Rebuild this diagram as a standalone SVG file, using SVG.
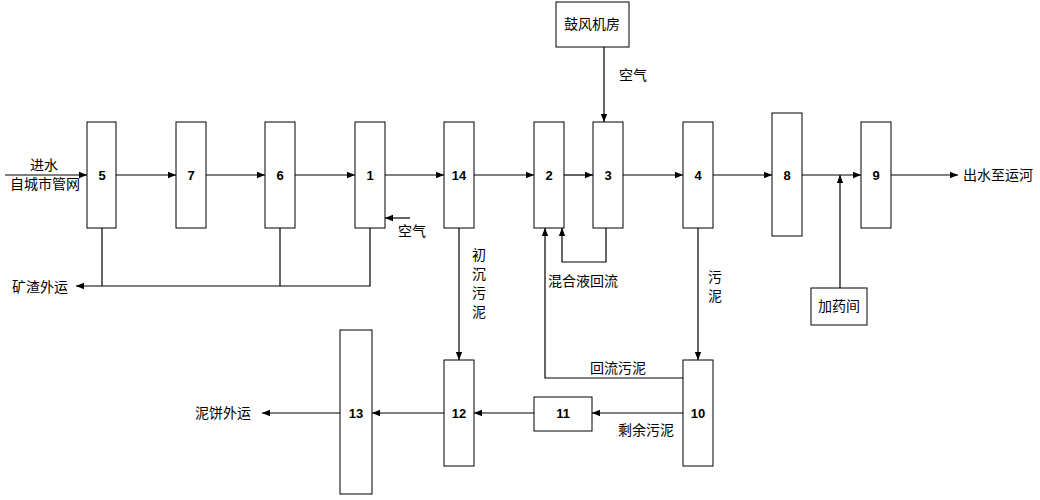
<svg xmlns="http://www.w3.org/2000/svg" width="1040" height="500" viewBox="0 0 1040 500">
<defs>
<marker id="a" viewBox="0 0 10 10" refX="10" refY="5" markerWidth="8" markerHeight="8" orient="auto-start-reverse" markerUnits="userSpaceOnUse"><path d="M0,1 L10,5 L0,9 z" fill="#000"/></marker>
<style>
rect{fill:#fff;stroke:#000;stroke-width:1}
text{font-family:"Liberation Sans","Noto Sans CJK SC",sans-serif;font-size:14px;fill:#000}
.n{font-weight:bold;text-anchor:middle;font-size:13px}
.c line,.c polyline{stroke:#000;stroke-width:1.2;fill:none}
.ar{marker-end:url(#a)}
</style>
</defs>
<rect x="0" y="0" width="1040" height="500" style="fill:#fff;stroke:none"/>
<g class="c">
<line class="ar" x1="5" y1="175" x2="87" y2="175"/>
<line class="ar" x1="116" y1="175" x2="176" y2="175"/>
<line class="ar" x1="206" y1="175" x2="265" y2="175"/>
<line class="ar" x1="295" y1="175" x2="355" y2="175"/>
<line class="ar" x1="385" y1="175" x2="444" y2="175"/>
<line class="ar" x1="474" y1="175" x2="534" y2="175"/>
<line class="ar" x1="564" y1="175" x2="593" y2="175"/>
<line class="ar" x1="623" y1="175" x2="683" y2="175"/>
<line class="ar" x1="713" y1="175" x2="772" y2="175"/>
<line class="ar" x1="802" y1="175" x2="861" y2="175"/>
<line class="ar" x1="891" y1="175" x2="958" y2="175"/>
<line x1="102" y1="228" x2="102" y2="286"/>
<line x1="280" y1="228" x2="280" y2="286"/>
<polyline class="ar" points="370,228 370,286 76,286"/>
<line class="ar" x1="410" y1="218" x2="385" y2="218"/>
<line class="ar" x1="604" y1="47" x2="604" y2="122"/>
<polyline class="ar" points="606,228 606,262 562,262 562,228"/>
<line class="ar" x1="459" y1="228" x2="459" y2="360"/>
<line class="ar" x1="698" y1="228" x2="698" y2="360"/>
<polyline class="ar" points="683,378 545,378 545,228"/>
<line class="ar" x1="683" y1="413" x2="592" y2="413"/>
<line class="ar" x1="534" y1="413" x2="474" y2="413"/>
<line class="ar" x1="444" y1="413" x2="372" y2="413"/>
<line class="ar" x1="340" y1="413" x2="262" y2="413"/>
<line class="ar" x1="840" y1="288" x2="840" y2="175"/>
</g>
<g id="n5"><rect x="87" y="122" width="29" height="106"/><text class="n" x="102" y="180">5</text></g>
<g id="n7"><rect x="176" y="122" width="30" height="106"/><text class="n" x="191" y="180">7</text></g>
<g id="n6"><rect x="265" y="122" width="30" height="106"/><text class="n" x="280" y="180">6</text></g>
<g id="n1"><rect x="355" y="122" width="30" height="106"/><text class="n" x="370" y="180">1</text></g>
<g id="n14"><rect x="444" y="122" width="30" height="106"/><text class="n" x="459" y="180">14</text></g>
<g id="n2"><rect x="534" y="122" width="30" height="106"/><text class="n" x="549" y="180">2</text></g>
<g id="n3"><rect x="593" y="122" width="30" height="106"/><text class="n" x="608" y="180">3</text></g>
<g id="n4"><rect x="683" y="122" width="30" height="106"/><text class="n" x="698" y="180">4</text></g>
<g id="n8"><rect x="772" y="113" width="30" height="123"/><text class="n" x="787" y="180">8</text></g>
<g id="n9"><rect x="861" y="122" width="30" height="106"/><text class="n" x="876" y="180">9</text></g>
<g id="blower"><rect x="556" y="2" width="73" height="45"/><text x="592" y="29" text-anchor="middle">鼓风机房</text></g>
<g id="dosing"><rect x="811" y="288" width="56" height="37"/><text x="839" y="311" text-anchor="middle">加药间</text></g>
<g id="n12"><rect x="444" y="360" width="30" height="106"/><text class="n" x="459" y="418">12</text></g>
<g id="n13"><rect x="340" y="330" width="32" height="164"/><text class="n" x="356" y="418">13</text></g>
<g id="n11"><rect x="534" y="397" width="58" height="34"/><text class="n" x="563" y="418">11</text></g>
<g id="n10"><rect x="683" y="360" width="30" height="106"/><text class="n" x="698" y="418">10</text></g>
<g id="labels">
<text x="30" y="170">进水</text>
<text x="10" y="189">自城市管网</text>
<text x="12" y="292">矿渣外运</text>
<text x="398" y="236">空气</text>
<text x="619" y="80">空气</text>
<text x="548" y="286">混合液回流</text>
<text x="472" y="260">初</text>
<text x="472" y="279">沉</text>
<text x="472" y="298">污</text>
<text x="472" y="317">泥</text>
<text x="708" y="282">污</text>
<text x="708" y="301">泥</text>
<text x="590" y="373">回流污泥</text>
<text x="618" y="435">剩余污泥</text>
<text x="195" y="418">泥饼外运</text>
<text x="963" y="180">出水至运河</text>
</g>
</svg>
